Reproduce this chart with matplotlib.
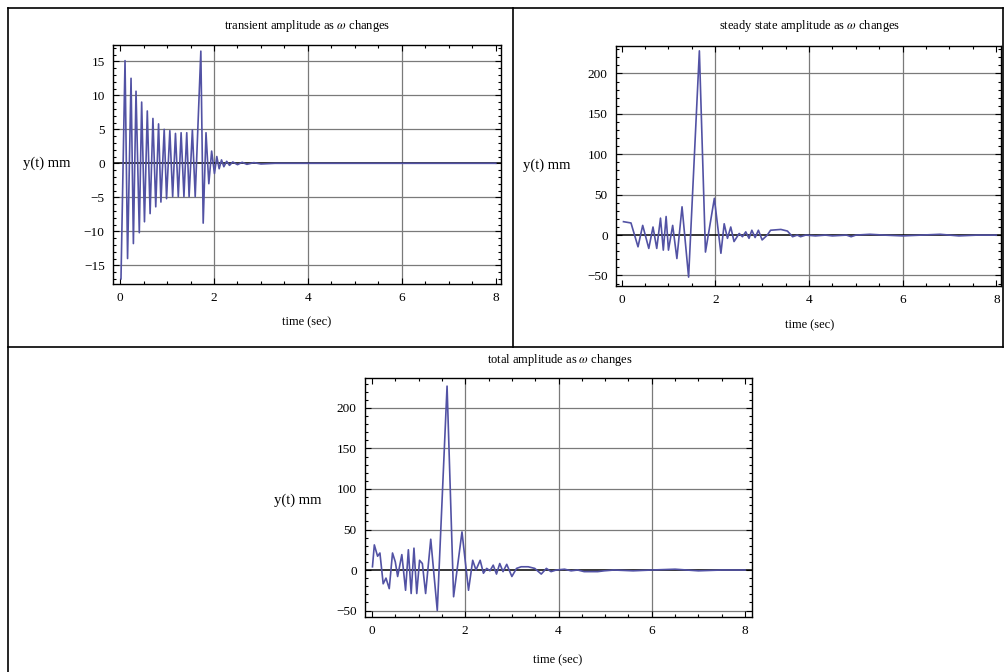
import numpy as np
import matplotlib
matplotlib.use("Agg")
import matplotlib.pyplot as plt
from matplotlib.ticker import MultipleLocator
from matplotlib.lines import Line2D

plt.rcParams['font.family'] = ['Liberation Serif', 'DejaVu Serif']
plt.rcParams['mathtext.fontset'] = 'stix'

# transient amplitude (turning points)
t_transient = [0.02, 0.106, 0.16, 0.234, 0.284, 0.34, 0.41, 0.46, 0.52, 0.58, 0.64,
               0.70, 0.76, 0.82, 0.87, 0.94, 0.99, 1.06, 1.12, 1.18, 1.24, 1.30,
               1.36, 1.42, 1.47, 1.54, 1.60, 1.72, 1.77, 1.83, 1.89, 1.95, 2.01,
               2.06, 2.11, 2.16, 2.21, 2.27, 2.33, 2.40, 2.50, 2.60, 2.70, 2.85,
               3.00, 3.30, 8.00]
y_transient = [-17.0, 15.1, -14.0, 12.5, -11.8, 10.6, -10.2, 9.0, -8.6, 7.7, -7.4,
               6.6, -6.4, 5.8, -5.7, 5.0, -5.2, 4.8, -4.9, 4.4, -4.9, 4.5,
               -4.9, 4.5, -4.9, 4.9, -4.9, 16.5, -8.8, 4.5, -3.0, 1.8, -1.5,
               1.0, -0.8, 0.5, -0.5, 0.3, -0.3, 0.2, -0.2, 0.15, -0.15, 0.1,
               -0.1, 0.0, 0.0]

# steady state amplitude
t_steady = [0.04, 0.20, 0.35, 0.45, 0.58, 0.67, 0.75, 0.83, 0.89, 0.95, 1.00,
            1.09, 1.18, 1.29, 1.43, 1.66, 1.79, 1.98, 2.12, 2.19, 2.26, 2.33,
            2.40, 2.51, 2.58, 2.65, 2.72, 2.78, 2.85, 2.92, 3.00, 3.11, 3.18,
            3.40, 3.54, 3.65, 3.75, 3.82, 3.93, 4.14, 4.35, 4.50, 4.80, 4.90,
            5.00, 5.30, 5.60, 6.00, 6.40, 6.80, 7.20, 7.60, 8.00]
y_steady = [16.6, 15.0, -14.5, 12.0, -16.5, 10.0, -16.5, 21.0, -18.6, 23.0, -18.6,
            12.0, -29.0, 35.0, -52.0, 228.0, -21.0, 45.5, -22.5, 14.0, -4.0, 10.0,
            -8.0, 2.0, -2.0, 4.0, -4.0, 6.0, -3.0, 6.0, -6.0, 0.0, 6.0,
            7.0, 5.0, -2.0, 0.0, -2.0, 0.0, -1.0, 0.0, -1.0, 0.0, -2.0,
            0.0, 1.0, 0.0, -1.0, 0.0, 1.0, -1.0, 0.0, 0.0]

# total amplitude
t_total = [0.01, 0.05, 0.12, 0.17, 0.24, 0.30, 0.37, 0.44, 0.50, 0.55, 0.64,
           0.72, 0.78, 0.84, 0.90, 0.96, 1.02, 1.08, 1.15, 1.26, 1.40, 1.61,
           1.75, 1.93, 2.07, 2.16, 2.23, 2.32, 2.39, 2.46, 2.53, 2.60, 2.67,
           2.74, 2.81, 2.89, 3.00, 3.10, 3.20, 3.35, 3.49, 3.63, 3.74, 3.84,
           3.95, 4.13, 4.27, 4.41, 4.55, 4.84, 4.98, 5.19, 5.60, 6.00, 6.50,
           7.00, 7.50, 8.00]
y_total = [4.0, 31.0, 17.0, 21.0, -17.0, -10.0, -23.0, 21.0, 10.0, -8.0, 19.0,
           -25.0, 25.0, -29.0, 27.0, -29.0, 12.0, 8.0, -29.0, 38.0, -50.0, 227.0,
           -33.0, 47.0, -25.0, 12.0, 0.0, 12.0, -4.0, 2.0, -1.0, 6.0, -5.0,
           8.0, -2.0, 7.0, -8.0, 2.0, 4.0, 4.0, 2.0, -5.0, 2.0, -2.0,
           0.0, 1.0, -1.0, 0.0, -2.0, -2.0, -1.0, 0.0, -1.0, 0.0, 1.0,
           -1.0, 0.0, 0.0]

W, H = 1005, 672
LINE_COLOR = '#5252a4'


def px_axes(fig, left, top, right, bottom):
    return fig.add_axes([left / W, 1 - bottom / H, (right - left) / W, (bottom - top) / H])


def style_panel(ax, t, y, xlim, ylim, ymajor, yminor, ygrid):
    ax.set_xlim(*xlim)
    ax.set_ylim(*ylim)
    for g in (2, 4, 6):
        ax.axvline(g, color='#7a7a7a', lw=0.9, zorder=1)
    for g in ygrid:
        ax.axhline(g, color='#7a7a7a', lw=0.9, zorder=1)
    ax.axhline(0, color='black', lw=1.1, zorder=2)
    ax.plot(t, y, color=LINE_COLOR, lw=1.2, zorder=3)
    ax.xaxis.set_major_locator(MultipleLocator(2))
    ax.xaxis.set_minor_locator(MultipleLocator(0.5))
    ax.yaxis.set_major_locator(MultipleLocator(ymajor))
    ax.yaxis.set_minor_locator(MultipleLocator(yminor))
    ax.tick_params(which='both', direction='in', top=True, right=True,
                   labelsize=9.5, width=0.8)
    ax.tick_params(which='major', length=4.5, pad=6)
    ax.tick_params(which='minor', length=2.5)
    for s in ax.spines.values():
        s.set_linewidth(1.0)


fig = plt.figure(figsize=(W / 100, H / 100), dpi=100)
fig.patch.set_facecolor('white')

# table borders
for (x0, y0, x1, y1) in [(8, 8, 8, H), (8, 8, 1003, 8), (8, 347, 1003, 347),
                         (513, 8, 513, 347), (1003, 8, 1003, 347)]:
    fig.add_artist(Line2D([x0 / W, x1 / W], [1 - y0 / H, 1 - y1 / H],
                          color='black', lw=1.2))

# panel 1
ax1 = px_axes(fig, 113, 45, 501, 284)
style_panel(ax1, t_transient, y_transient, (-0.15, 8.11), (-17.75, 17.4), 5, 1,
            [-15, -10, -5, 5, 10, 15])
fig.text(307 / W, 1 - 26 / H, r'transient amplitude as $\omega$ changes',
         ha='center', va='center', fontsize=9)
fig.text(47 / W, 1 - 163 / H, 'y(t) mm', ha='center', va='center', fontsize=10.5)
fig.text(307 / W, 1 - 322 / H, 'time (sec)', ha='center', va='center', fontsize=9)

# panel 2
ax2 = px_axes(fig, 616, 46, 1001, 286)
style_panel(ax2, t_steady, y_steady, (-0.12, 8.1), (-63, 234), 50, 10,
            [-50, 50, 100, 150, 200])
fig.text(810 / W, 1 - 26 / H, r'steady state amplitude as $\omega$ changes',
         ha='center', va='center', fontsize=9)
fig.text(547 / W, 1 - 165 / H, 'y(t) mm', ha='center', va='center', fontsize=10.5)
fig.text(810 / W, 1 - 325 / H, 'time (sec)', ha='center', va='center', fontsize=9)

# panel 3
ax3 = px_axes(fig, 365, 378, 752, 617)
style_panel(ax3, t_total, y_total, (-0.15, 8.15), (-58, 237), 50, 10,
            [-50, 50, 100, 150, 200])
fig.text(560 / W, 1 - 360 / H, r'total amplitude as $\omega$ changes',
         ha='center', va='center', fontsize=9)
fig.text(298 / W, 1 - 500 / H, 'y(t) mm', ha='center', va='center', fontsize=10.5)
fig.text(558 / W, 1 - 660 / H, 'time (sec)', ha='center', va='center', fontsize=9)

fig.savefig('out.png', dpi=100, facecolor='white')
